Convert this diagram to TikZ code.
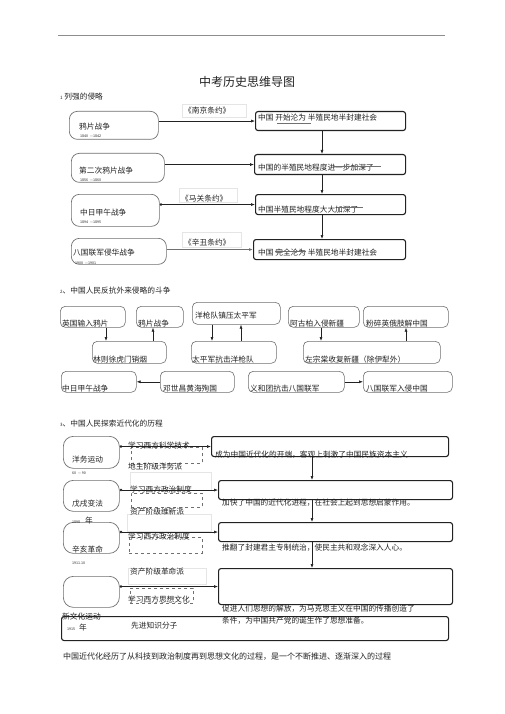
\documentclass[tikz,border=0pt]{standalone}
\usepackage{fontspec}
\usepackage{tikz}
\usetikzlibrary{arrows.meta}
\newfontfamily\cjk{Noto Sans CJK SC}
\definecolor{mapgray}{HTML}{707070}
\definecolor{mapink}{HTML}{222222}

\begin{document}
\begin{tikzpicture}[x=1pt,y=-1pt,
  txt/.style={anchor=base west,inner sep=0pt,font=\cjk\fontsize{7.7}{9}\selectfont,text=mapink},
  yr/.style={anchor=base west,inner sep=0pt,font=\cjk\fontsize{3.6}{4}\selectfont,text=mapink},
  warbox/.style={draw=mapgray,line width=0.7pt,rounded corners=8pt,anchor=north west,inner sep=0pt},
  resbox/.style={draw=mapink,line width=1.1pt,rounded corners=2.5pt,anchor=north west,inner sep=0pt},
  fightbox/.style={draw=mapgray,line width=0.6pt,rounded corners=5pt,anchor=north west,inner sep=0pt},
  erabox/.style={draw=mapgray,line width=0.7pt,rounded corners=10pt,anchor=north west,inner sep=0pt},
  tagbox/.style={draw=gray!20,line width=0.4pt,anchor=north west,inner sep=0pt},
  waybox/.style={draw=mapgray,dashed,line width=0.5pt,anchor=north west,inner sep=0pt},
  arr/.style={-{Latex[length=4pt,width=3pt]},line width=0.6pt,draw=mapink},
  darr/.style={{Circle[length=2.5pt]}-{Latex[length=4pt,width=3pt]},line width=0.6pt,draw=mapink}]
  \fill[white] (0,0) rectangle (505,714);
  \useasboundingbox (0,0) rectangle (505,714);
  \draw[mapgray!80,line width=0.7pt] (58,35) -- (445,35);
  \node[anchor=base,inner sep=0pt,font=\cjk\fontsize{12}{14}\selectfont,text=mapink] (title) at (247,86.5) {中考历史思维导图};

  \node[txt] (h1) at (60,100) {{\fontsize{4.5}{5}\selectfont 1} 列强的侵略};
  \node[warbox,minimum width=89pt,minimum height=28pt] (w1) at (69,111) {};
  \node[warbox,minimum width=93pt,minimum height=29pt] (w2) at (71,153) {};
  \node[warbox,minimum width=88pt,minimum height=32pt] (w3) at (71,194) {};
  \node[warbox,minimum width=95pt,minimum height=26pt] (w4) at (71,238) {};
  \node[txt] (w1t) at (79,130) {鸦片战争};
  \node[yr] (w1y) at (80,138) {1840\ \ —1842};
  \node[txt] (w2t) at (79,174) {第二次鸦片战争};
  \node[yr] (w2y) at (80,182) {1856\ \ —1860};
  \node[txt] (w3t) at (80,215) {中日甲午战争};
  \node[yr] (w3y) at (80,223) {1894\ \ —1895};
  \node[txt] (w4t) at (73,255) {八国联军侵华战争};
  \node[yr] (w4y) at (75,264) {1900\ \ —1901};

  \node[resbox,minimum width=150pt,minimum height=19pt] (r1) at (255,111) {};
  \node[resbox,minimum width=151pt,minimum height=20pt] (r2) at (254,154) {};
  \node[resbox,minimum width=150pt,minimum height=20pt] (r3) at (255,194) {};
  \node[resbox,minimum width=152pt,minimum height=20pt] (r4) at (253,239) {};
  \node[txt] (r1t) at (258,121) {中国\ 开始沦为\ 半殖民地半封建社会};
  \node[txt] (r2t) at (258,171) {中国的半殖民地程度进一步加深了};
  \node[txt] (r3t) at (258,212) {中国半殖民地程度大大加深了};
  \node[txt] (r4t) at (258,255) {中国\ 完全沦为\ 半殖民地半封建社会};
  \draw[mapgray,line width=0.5pt] (277,123.5) -- (311,123.5);
  \draw[mapgray,line width=0.5pt] (333,166) -- (381,166);
  \draw[mapgray,line width=0.5pt] (337,207) -- (363,207);
  \draw[mapgray,line width=0.5pt] (275,251) -- (306,251);

  \node[tagbox,minimum width=64pt,minimum height=13pt] (t1) at (182,104) {};
  \node[tagbox,minimum width=58pt,minimum height=14pt] (t2) at (179,188) {};
  \node[tagbox,minimum width=59pt,minimum height=15pt] (t3) at (182,232) {};
  \node[txt] (t1t) at (184,114) {《南京条约》};
  \node[txt] (t2t) at (181,201) {《马关条约》};
  \node[txt] (t3t) at (184,245) {《辛丑条约》};

  \draw[arr] (w1.east |- r1.west) -- (r1.west);
  \draw[arr] (w2.east |- r2.west) -- (r2.west);
  \draw[darr] (w3.east |- r3.west) -- (r3.west);
  \draw[arr,draw=mapgray,line width=1.1pt] (w4.east |- r4.west) -- (r4.west);
  \draw[arr] (r1.south -| 322,0) -- (r2.north -| 322,0);
  \draw[arr] (r2.south -| 322,0) -- (r3.north -| 322,0);
  \draw[arr] (r3.south -| 322,0) -- (r4.north -| 322,0);

  \node[txt] (h2) at (60,293) {{\fontsize{4.5}{5}\selectfont 2}、中国人民反抗外来侵略的斗争};
  \node[fightbox,minimum width=65pt,minimum height=21pt] (a1) at (60,306) {};
  \node[fightbox,minimum width=47pt,minimum height=21pt] (a2) at (136,306) {};
  \node[fightbox,minimum width=88pt,minimum height=22pt] (a3) at (192,302) {};
  \node[fightbox,minimum width=71pt,minimum height=21pt] (a4) at (288,306) {};
  \node[fightbox,minimum width=85pt,minimum height=21pt] (a5) at (363,306) {};
  \node[fightbox,minimum width=74pt,minimum height=22pt] (b1) at (92,341) {};
  \node[fightbox,minimum width=85pt,minimum height=22pt] (b2) at (191,341) {};
  \node[fightbox,minimum width=137pt,minimum height=22pt] (b3) at (303,341) {};
  \node[fightbox,minimum width=75pt,minimum height=21pt] (c1) at (61,371) {};
  \node[fightbox,minimum width=74pt,minimum height=21pt] (c2) at (160,371) {};
  \node[fightbox,minimum width=96pt,minimum height=21pt] (c3) at (248,371) {};
  \node[fightbox,minimum width=89pt,minimum height=21pt] (c4) at (363,371) {};
  \node[txt] (a1t) at (62,326) {英国输入鸦片};
  \node[txt] (a2t) at (138,326) {鸦片战争};
  \node[txt] (a3t) at (195,318) {洋枪队镇压太平军};
  \node[txt] (a4t) at (290,326) {阿古柏入侵新疆};
  \node[txt] (a5t) at (366,326) {粉碎英俄肢解中国};
  \node[txt] (b1t) at (93,362) {林则徐虎门销烟};
  \node[txt] (b2t) at (192,362) {太平军抗击洋枪队};
  \node[txt] (b3t) at (305,362) {左宗棠收复新疆（除伊犁外）};
  \node[txt] (c1t) at (62,391) {中日甲午战争};
  \node[txt] (c2t) at (163,391) {邓世昌黄海殉国};
  \node[txt] (c3t) at (250,391) {义和团抗击八国联军};
  \node[txt] (c4t) at (366,391) {八国联军入侵中国};

  \draw[arr] (a1.south -| 106,0) -- (b1.north -| 106,0);
  \draw[arr] (b1.north -| 153,0) -- (a2.south -| 153,0);
  \draw[arr] (a3.south -| 212,0) -- (b2.north -| 212,0);
  \draw[arr] (b2.north -| 241,0) -- (a3.south -| 241,0);
  \draw[arr] (a4.south -| 321,0) -- (b3.north -| 321,0);
  \draw[arr] (b3.north -| 406,0) -- (a5.south -| 406,0);
  \draw[arr] (c2.west) -- (c1.east);
  \draw[arr] (c3.east) -- (c4.west);

  \node[txt] (h3) at (60,426) {{\fontsize{4.5}{5}\selectfont 3}、中国人民探索近代化的历程};
  \node[erabox,minimum width=56pt,minimum height=32pt] (e1) at (63,436) {};
  \node[erabox,minimum width=56pt,minimum height=31pt] (e2) at (63,480) {};
  \node[erabox,minimum width=56pt,minimum height=31pt] (e3) at (63,522) {};
  \node[erabox,minimum width=56pt,minimum height=31pt] (e4) at (63,576) {};
  \node[txt] (e1t) at (72,462) {洋务运动};
  \node[yr] (e1y) at (72,474) {60\ \ —\ 90};
  \node[txt] (e2t) at (72,506) {戊戌变法};
  \node[yr] (e2y) at (72,523) {1898\ \ \ \ \ \ {\fontsize{7.7}{9}\selectfont 年}};
  \node[txt] (e3t) at (72,552) {辛亥革命};
  \node[yr] (e3y) at (72,564) {1911.10};

  \node[resbox,minimum width=237pt,minimum height=20pt] (g1) at (211,436) {};
  \node[resbox,minimum width=234pt,minimum height=19pt] (g2) at (218,480) {};
  \node[resbox,minimum width=234pt,minimum height=19pt] (g3) at (218,522) {};
  \node[resbox,minimum width=234pt,minimum height=36pt] (g4) at (218,568) {};
  \node[resbox,minimum width=387pt,minimum height=24pt] (all) at (61,616) {};
  \node[txt] (g1t) at (215,457) {成为中国近代化的开端，客观上刺激了中国民族资本主义};
  \node[txt] (g2t) at (222,505) {加快了中国的近代化进程，在社会上起到思想启蒙作用。};
  \node[txt] (g3t) at (222,550) {推翻了封建君主专制统治，使民主共和观念深入人心。};
  \node[txt] (g4t) at (222,611) {促进人们思想的解放，为马克思主义在中国的传播创造了};
  \node[txt] (g4u) at (222,623) {条件，为中国共产党的诞生作了思想准备。};
  \node[txt] (e4t) at (62,619) {新文化运动};
  \node[yr] (e4y) at (67,630) {1915\ \ \ \ \ {\fontsize{7.7}{9}\selectfont 年}};

  \node[tagbox,minimum width=81pt,minimum height=18pt] (f1) at (130,472) {};
  \node[tagbox,minimum width=84pt,minimum height=17pt] (f2) at (127,514) {};
  \node[tagbox,minimum width=78pt,minimum height=16pt] (f3) at (128,568) {};
  \node[waybox,minimum width=71pt,minimum height=16pt] (d1) at (131,447) {};
  \node[waybox,minimum width=71pt,minimum height=14pt] (d2) at (131,493) {};
  \node[waybox,minimum width=73pt,minimum height=16pt] (d3) at (129,537) {};
  \node[waybox,minimum width=63pt,minimum height=15pt] (d4) at (130,588) {};
  \node[txt] (m1) at (128,448) {学习西方科学技术};
  \node[txt] (m1p) at (128,469) {地主阶级洋务派};
  \node[txt] (m2) at (130,492) {学习西方政治制度};
  \node[txt] (m2p) at (130,514) {资产阶级维新派};
  \node[txt] (m3) at (128,539) {学习西方政治制度};
  \node[txt] (m3p) at (130,574) {资产阶级革命派};
  \node[txt] (m4) at (128,602) {学习西方思想文化};
  \node[txt] (m4p) at (131,628) {先进知识分子};

  \draw[darr] (e1.east |- g1.west) -- (g1.west);
  \draw[darr] (e2.east |- g2.west) -- (g2.west);
  \draw[darr] (e3.east |- g3.west) -- (g3.west);
  \draw[darr] (e4.east |- g4.west) -- (g4.west);
  \draw[arr] (g1.south -| 312,0) -- (g2.north -| 312,0);
  \draw[arr] (g2.south -| 312,0) -- (g3.north -| 312,0);
  \draw[arr] (g3.south -| 312,0) -- (g4.north -| 312,0);

  \node[txt,font=\cjk\fontsize{8}{9}\selectfont] (sum) at (63,659) {中国近代化经历了从科技到政治制度再到思想文化的过程，是一个不断推进、逐渐深入的过程};
\end{tikzpicture}
\end{document}
